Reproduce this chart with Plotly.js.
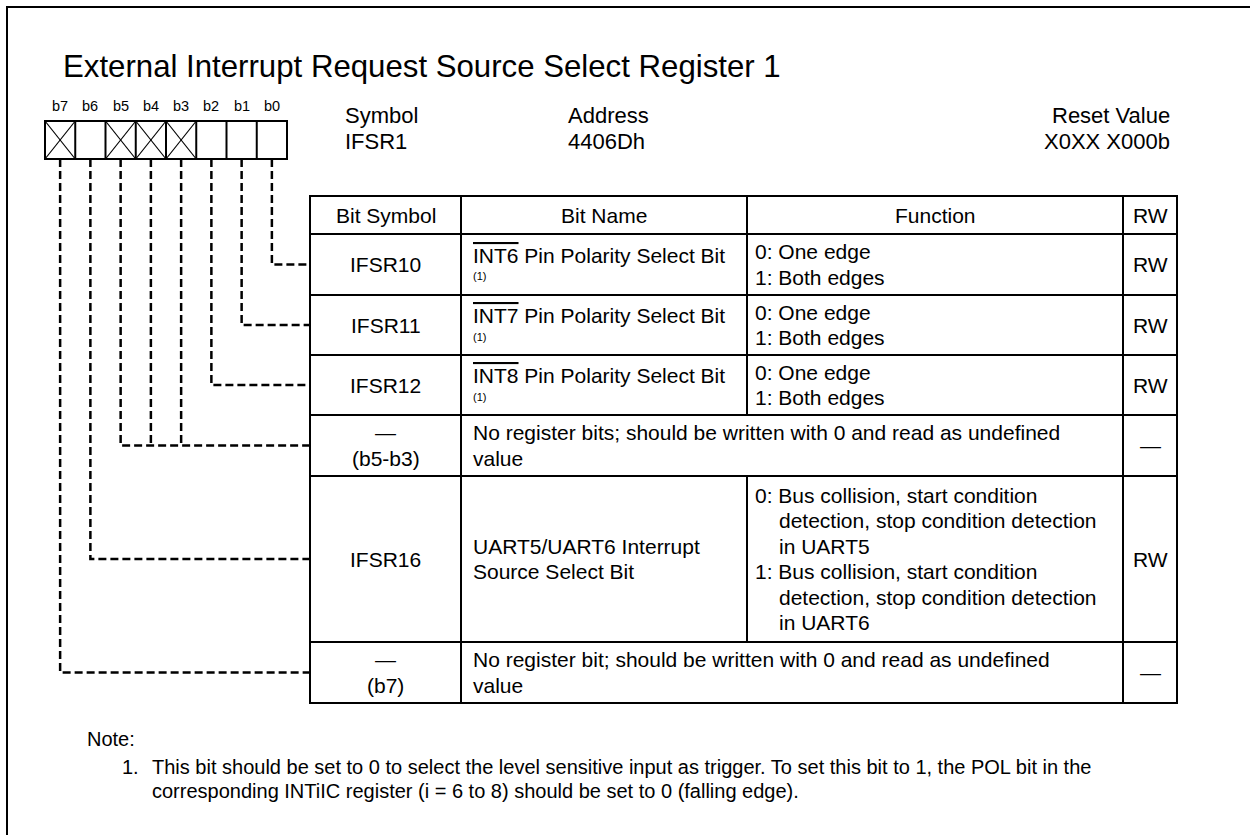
<!DOCTYPE html>
<html><head><meta charset="utf-8">
<script src="https://cdn.plot.ly/plotly-3.0.1.min.js"></script>
<style>html,body{margin:0;padding:0;background:#fff;overflow:hidden}</style>
</head><body><div id="chart" style="width:1250px;height:835px"></div>
<script>
// ---------- data ----------
const titleText = 'External Interrupt Request Source Select Register 1';
const bitLabels = ['b7','b6','b5','b4','b3','b2','b1','b0'];
const reservedBits = [true,false,true,true,true,false,false,false];
const infoHeaders = ['Symbol','Address','Reset Value'];
const infoValues = ['IFSR1','4406Dh','X0XX X000b'];
const columnHeaders = ['Bit Symbol','Bit Name','Function','RW'];
const bitSymbols = [['IFSR10'],['IFSR11'],['IFSR12'],['\u2014','(b5-b3)'],['IFSR16'],['\u2014','(b7)']];
const rowBits = [[0],[1],[2],[5,4,3],[6],[7]];
const bitNames = [['~INT6~ Pin Polarity Select Bit'],['~INT7~ Pin Polarity Select Bit'],['~INT8~ Pin Polarity Select Bit'],null,['UART5/UART6 Interrupt','Source Select Bit'],null];
const bitNameNotes = ['(1)','(1)','(1)',null,null,null];
const functionText = [
  ['0: One edge','1: Both edges'],
  ['0: One edge','1: Both edges'],
  ['0: One edge','1: Both edges'],
  null,
  ['0: Bus collision, start condition','>detection, stop condition detection','>in UART5',
   '1: Bus collision, start condition','>detection, stop condition detection','>in UART6'],
  null
];
const mergedText = [null,null,null,
  ['No register bits; should be written with 0 and read as undefined','value'],
  null,
  ['No register bit; should be written with 0 and read as undefined','value']];
const rwValues = ['RW','RW','RW','\u2014','RW','\u2014'];
const noteTitle = 'Note:';
const noteNumber = '1.';
const noteLines = ['This bit should be set to 0 to select the level sensitive input as trigger. To set this bit to 1, the POL bit in the',
  'corresponding INTiIC register (i = 6 to 8) should be set to 0 (falling edge).'];

// ---------- geometry / style ----------
const FONT = 'Liberation Sans, Arial, Helvetica, sans-serif';
const G = {
  W:1250, H:835, frame:7,
  titleX:61, titleY:66, titleSize:31.2,
  regX0:45, regY0:121, regY1:159, cellW:30.25, bitLabelY:106, bitLabelSize:14.5,
  infoX:[343,566,1172], infoY:[115,141], infoSize:22,
  cols:[310,461,747,1123,1177], rows:[196,234,295,355,415,476,642,703],
  pad:10, fnPad:6, lineGap:25.5, fnIndent:23.5, tableSize:21, footSize:11,
  noteX:85, noteNumX:120, noteTextX:150, noteY:[739,767,791], noteSize:20
};
const BLACK = '#000';

const shapes = [];
const annotations = [];
function line(x0,y0,x1,y1,w){shapes.push({type:'line',xref:'x',yref:'y',x0,y0,x1,y1,line:{color:BLACK,width:w}});}
function text(t,x,y,size,anchor){annotations.push({text:t,x,y,xref:'x',yref:'y',xanchor:anchor||'left',yanchor:'middle',showarrow:false,font:{family:FONT,size:size,color:BLACK}});}
function fmt(s){return s.replace(/~([^~]+)~/g,'<span style="text-decoration:overline">$1</span>');}

// frame
shapes.push({type:'rect',xref:'x',yref:'y',x0:G.frame,y0:G.frame,x1:G.W+50,y1:G.H+50,line:{color:BLACK,width:2}});

// title
text(titleText,G.titleX,G.titleY,G.titleSize,'left');

// register boxes
const cellX = i => G.regX0 + i*G.cellW;
const bitCenter = b => cellX(7-b) + G.cellW/2;
bitLabels.forEach((lab,i)=>{
  text(lab,cellX(i)+G.cellW/2,G.bitLabelY,G.bitLabelSize,'center');
  if(reservedBits[i]){
    line(cellX(i),G.regY0,cellX(i+1),G.regY1,1.2);
    line(cellX(i),G.regY1,cellX(i+1),G.regY0,1.2);
  }
});
shapes.push({type:'rect',xref:'x',yref:'y',x0:cellX(0),y0:G.regY0,x1:cellX(8),y1:G.regY1,line:{color:BLACK,width:2}});
for(let i=1;i<8;i++) line(cellX(i),G.regY0,cellX(i),G.regY1,2);

// info header
infoHeaders.forEach((h,i)=>{
  const anc = i===2?'right':'left';
  text(h,G.infoX[i],G.infoY[0],G.infoSize,anc);
  text(infoValues[i],G.infoX[i],G.infoY[1],G.infoSize,anc);
});

// table grid
const C=G.cols, R=G.rows;
shapes.push({type:'rect',xref:'x',yref:'y',x0:C[0],y0:R[0],x1:C[4],y1:R[R.length-1],line:{color:BLACK,width:2}});
for(let r=1;r<R.length-1;r++) line(C[0],R[r],C[4],R[r],2);
[1,3].forEach(c=>line(C[c],R[0],C[c],R[R.length-1],2));
line(C[2],R[0],C[2],R[1],2);
rowBits.forEach((_,i)=>{ if(!mergedText[i]) line(C[2],R[i+1],C[2],R[i+2],2); });

// header
columnHeaders.forEach((h,c)=>text(h,(C[c]+C[c+1])/2,(R[0]+R[1])/2,G.tableSize,'center'));

function block(lines,x,yc,anchor,size,indent){
  const n=lines.length;
  lines.forEach((ln,k)=>{
    let xx=x, t=ln;
    if(t.startsWith('>')){t=t.slice(1); xx=x+indent;}
    text(fmt(t),xx,yc+(k-(n-1)/2)*G.lineGap,size,anchor);
  });
}

// rows
const connX=[], connY=[];
rowBits.forEach((bits,i)=>{
  const y0=R[i+1], y1=R[i+2], yc=(y0+y1)/2;
  block(bitSymbols[i],(C[0]+C[1])/2,yc,'center',G.tableSize,0);
  if(mergedText[i]){
    block(mergedText[i],C[1]+G.pad,yc,'left',G.tableSize,0);
  } else {
    if(bitNameNotes[i]){
      text(fmt(bitNames[i][0]),C[1]+G.pad,yc-9.5,G.tableSize,'left');
      text(bitNameNotes[i],C[1]+G.pad,yc+11.5,G.footSize,'left');
    } else {
      block(bitNames[i],C[1]+G.pad,yc,'left',G.tableSize,0);
    }
    block(functionText[i],C[2]+G.fnPad,yc,'left',G.tableSize,G.fnIndent);
  }
  text(rwValues[i],(C[3]+C[4])/2,yc,G.tableSize,'center');
  // dashed connectors
  const xs=bits.map(bitCenter);
  const xl=Math.min(...xs);
  xs.forEach(x=>{
    if(x===xl){connX.push(x,x,C[0],null); connY.push(G.regY1,yc,yc,null);}
    else {connX.push(x,x,null); connY.push(G.regY1,yc,null);}
  });
});

// note
text(noteTitle,G.noteX,G.noteY[0],G.noteSize,'left');
text(noteNumber,G.noteNumX,G.noteY[1],G.noteSize,'left');
noteLines.forEach((t,k)=>text(t,G.noteTextX,G.noteY[1+k],G.noteSize,'left'));

const traces=[{type:'scatter',mode:'lines',x:connX,y:connY,connectgaps:false,hoverinfo:'skip',
  line:{color:BLACK,width:2.5,dash:'8px,4px'}}];

const layout={width:G.W,height:G.H,margin:{l:0,r:0,t:0,b:0},paper_bgcolor:'#fff',plot_bgcolor:'#fff',
  showlegend:false,
  xaxis:{range:[0,G.W],visible:false,fixedrange:true},
  yaxis:{range:[G.H,0],visible:false,fixedrange:true},
  shapes,annotations};
Plotly.newPlot('chart',traces,layout,{displayModeBar:false,staticPlot:true});
</script></body></html>
